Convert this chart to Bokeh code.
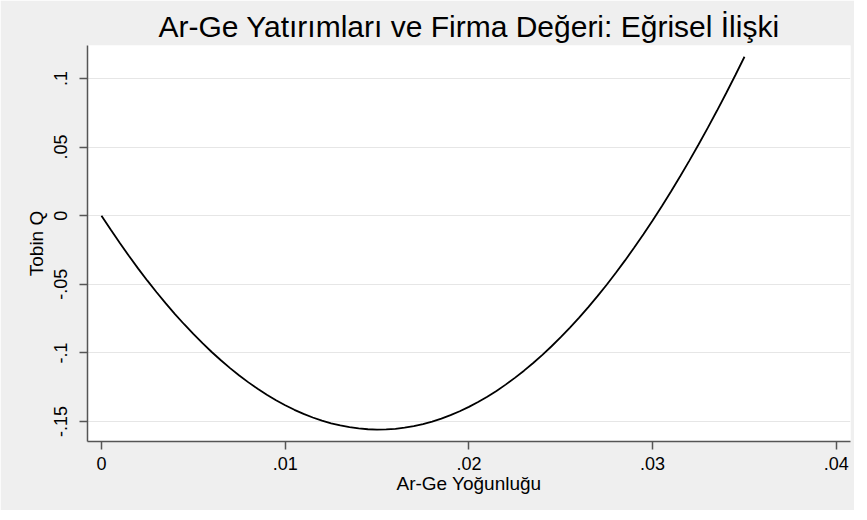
from bokeh.plotting import figure
from bokeh.models import Range1d, FixedTicker, CustomJSTickFormatter, ColumnDataSource
from bokeh.embed import file_html
from bokeh.resources import INLINE

# Data (Ar-Ge intensity vs Tobin Q curve)
rd_intensity = [
    0.0000, 0.0005, 0.0010, 0.0015, 0.0020, 0.0025, 0.0030, 0.0035, 0.0040, 0.0045,
    0.0050, 0.0055, 0.0060, 0.0065, 0.0070, 0.0075, 0.0080, 0.0085, 0.0090, 0.0095,
    0.0100, 0.0105, 0.0110, 0.0115, 0.0120, 0.0125, 0.0130, 0.0135, 0.0140, 0.0145,
    0.0150, 0.0155, 0.0160, 0.0165, 0.0170, 0.0175, 0.0180, 0.0185, 0.0190, 0.0195,
    0.0200, 0.0205, 0.0210, 0.0215, 0.0220, 0.0225, 0.0230, 0.0235, 0.0240, 0.0245,
    0.0250, 0.0255, 0.0260, 0.0265, 0.0270, 0.0275, 0.0280, 0.0285, 0.0290, 0.0295,
    0.0300, 0.0305, 0.0310, 0.0315, 0.0320, 0.0325, 0.0330, 0.0335, 0.0340, 0.0345,
    0.0350,
]
tobin_q = [
    0.00000, -0.01016, -0.01998, -0.02946, -0.03860, -0.04739, -0.05584, -0.06395, -0.07172, -0.07914,
    -0.08622, -0.09296, -0.09936, -0.10541, -0.11112, -0.11649, -0.12151, -0.12620, -0.13054, -0.13454,
    -0.13819, -0.14150, -0.14447, -0.14710, -0.14939, -0.15133, -0.15293, -0.15419, -0.15510, -0.15567,
    -0.15590, -0.15579, -0.15533, -0.15454, -0.15340, -0.15191, -0.15009, -0.14792, -0.14541, -0.14256,
    -0.13936, -0.13582, -0.13194, -0.12772, -0.12315, -0.11824, -0.11299, -0.10740, -0.10146, -0.09518,
    -0.08856, -0.08160, -0.07429, -0.06664, -0.05865, -0.05032, -0.04164, -0.03262, -0.02326, -0.01356,
    -0.00351, 0.00688, 0.01761, 0.02869, 0.04010, 0.05186, 0.06396, 0.07641, 0.08920, 0.10233,
    0.11580,
]
x_ticks = [0.0, 0.01, 0.02, 0.03, 0.04]
y_ticks = [-0.15, -0.10, -0.05, 0.0, 0.05, 0.10]

title_text = "Ar-Ge Yatırımları ve Firma Değeri: Eğrisel İlişki"
x_label = "Ar-Ge Yoğunluğu"
y_label = "Tobin Q"

FONT = "Liberation Sans"
BG = "#efefef"

p = figure(
    width=854, height=510,
    x_range=Range1d(-0.00076, 0.04077),
    y_range=Range1d(-0.1646, 0.124),
    output_backend="svg", toolbar_location=None,
    background_fill_color="white", border_fill_color=BG,
    min_border_left=87, min_border_right=4, min_border_top=45, min_border_bottom=69,
)
p.outline_line_color = None

p.title.text = title_text
p.title.align = "center"
p.title.text_font = FONT
p.title.text_font_size = "30px"
p.title.text_font_style = "normal"
p.title.text_color = "black"
p.title.standoff = 5

fmt = CustomJSTickFormatter(code="""
const v = Math.round(tick * 10000) / 10000;
let s = v.toString();
if (s.startsWith('0.')) s = s.slice(1);
else if (s.startsWith('-0.')) s = '-' + s.slice(2);
return s;
""")

for ax, ticks in ((p.xaxis[0], x_ticks), (p.yaxis[0], y_ticks)):
    ax.ticker = FixedTicker(ticks=ticks)
    ax.formatter = fmt
    ax.minor_tick_line_color = None
    ax.major_tick_in = 0
    ax.major_tick_out = 8
    ax.axis_line_color = "#555555"
    ax.axis_line_width = 1.5
    ax.major_tick_line_color = "#555555"
    ax.major_tick_line_width = 1.5
    ax.major_label_text_font = FONT
    ax.major_label_text_font_size = "18px"
    ax.major_label_text_color = "black"
    ax.axis_label_text_font = FONT
    ax.axis_label_text_font_size = "19px"
    ax.axis_label_text_font_style = "normal"
    ax.axis_label_text_color = "black"

p.xaxis.axis_label = x_label
p.yaxis.axis_label = y_label
p.yaxis.major_label_orientation = "vertical"
p.xaxis.major_label_standoff = 7
p.yaxis.major_label_standoff = 12
p.xaxis.axis_label_standoff = 0
p.yaxis.axis_label_standoff = 5

p.xgrid.grid_line_color = None
p.ygrid.grid_line_color = "#e6e6e6"
p.ygrid.grid_line_width = 1.2
p.ygrid.ticker = FixedTicker(ticks=y_ticks)

src = ColumnDataSource(dict(x=rd_intensity, y=tobin_q))
p.line("x", "y", source=src, line_color="black", line_width=1.8)

open("out.html", "w").write(file_html(p, INLINE))
